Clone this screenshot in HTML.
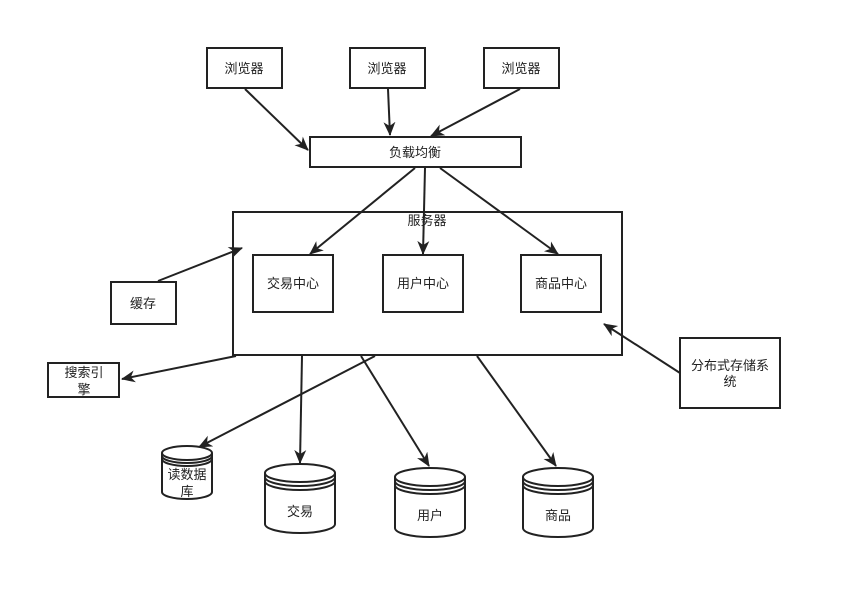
<!DOCTYPE html>
<html><head><meta charset="utf-8"><style>
body{margin:0;background:#fff}
svg text{font-family:"Liberation Sans","Noto Sans CJK SC",sans-serif;font-size:13px;fill:#222;text-anchor:middle}
</style></head><body>
<svg width="842" height="600" viewBox="0 0 842 600" xmlns="http://www.w3.org/2000/svg">
<defs><marker id="a" markerWidth="14" markerHeight="14" refX="13" refY="7" orient="auto" markerUnits="userSpaceOnUse" viewBox="0 0 14 14"><path d="M0,1 L14,7 L0,13 L4,7 z" fill="#222"/></marker></defs>
<g fill="#fff" stroke="#222" stroke-width="2">
<rect x="207" y="48" width="75" height="40"/>
<rect x="350" y="48" width="75" height="40"/>
<rect x="484" y="48" width="75" height="40"/>
<rect x="310" y="137" width="211" height="30"/>
<rect x="233" y="212" width="389" height="143"/>
<rect x="253" y="255" width="80" height="57"/>
<rect x="383" y="255" width="80" height="57"/>
<rect x="521" y="255" width="80" height="57"/>
<rect x="111" y="282" width="65" height="42"/>
<rect x="48" y="363" width="71" height="34"/>
<rect x="680" y="338" width="100" height="70"/>
</g>
<g stroke="#222" stroke-width="2" fill="none" marker-end="url(#a)">
<line x1="245" y1="89" x2="308" y2="150"/>
<line x1="388" y1="89" x2="390" y2="135"/>
<line x1="520" y1="89" x2="431" y2="136"/>
<line x1="415" y1="168" x2="310" y2="254"/>
<line x1="425" y1="168" x2="423" y2="254"/>
<line x1="440" y1="168" x2="558" y2="254"/>
<line x1="158" y1="281" x2="242" y2="248"/>
<line x1="236" y1="356" x2="122" y2="379"/>
<line x1="680" y1="373" x2="604" y2="324"/>
<line x1="375" y1="356" x2="199" y2="447"/>
<line x1="302" y1="356" x2="300" y2="463"/>
<line x1="361" y1="356" x2="429" y2="466"/>
<line x1="477" y1="356" x2="556" y2="466"/>
</g>
<g fill="#fff" stroke="#222" stroke-width="2">
<path d="M162,453 V492 A25,7 0 0 0 212,492 V453"/>
<ellipse cx="187" cy="453" rx="25" ry="7"/>
<path d="M162,456 A25,7 0 0 0 212,456 M162,459 A25,7 0 0 0 212,459" fill="none"/>
<path d="M265,473 V524 A35,9 0 0 0 335,524 V473"/>
<ellipse cx="300" cy="473" rx="35" ry="9"/>
<path d="M265,477 A35,9 0 0 0 335,477 M265,481 A35,9 0 0 0 335,481" fill="none"/>
<path d="M395,477 V528 A35,9 0 0 0 465,528 V477"/>
<ellipse cx="430" cy="477" rx="35" ry="9"/>
<path d="M395,481 A35,9 0 0 0 465,481 M395,485 A35,9 0 0 0 465,485" fill="none"/>
<path d="M523,477 V528 A35,9 0 0 0 593,528 V477"/>
<ellipse cx="558" cy="477" rx="35" ry="9"/>
<path d="M523,481 A35,9 0 0 0 593,481 M523,485 A35,9 0 0 0 593,485" fill="none"/>
</g>
<text x="244" y="73">浏览器</text>
<text x="387" y="73">浏览器</text>
<text x="521" y="73">浏览器</text>
<text x="415" y="157">负载均衡</text>
<text x="427" y="225">服务器</text>
<text x="293" y="288">交易中心</text>
<text x="423" y="288">用户中心</text>
<text x="561" y="288">商品中心</text>
<text x="143" y="308">缓存</text>
<text x="84" y="377">搜索引</text>
<text x="84" y="394">擎</text>
<text x="730" y="370">分布式存储系</text>
<text x="730" y="386">统</text>
<text x="187" y="479">读数据</text>
<text x="187" y="496">库</text>
<text x="300" y="516">交易</text>
<text x="430" y="520">用户</text>
<text x="558" y="520">商品</text>
</svg>
</body></html>
